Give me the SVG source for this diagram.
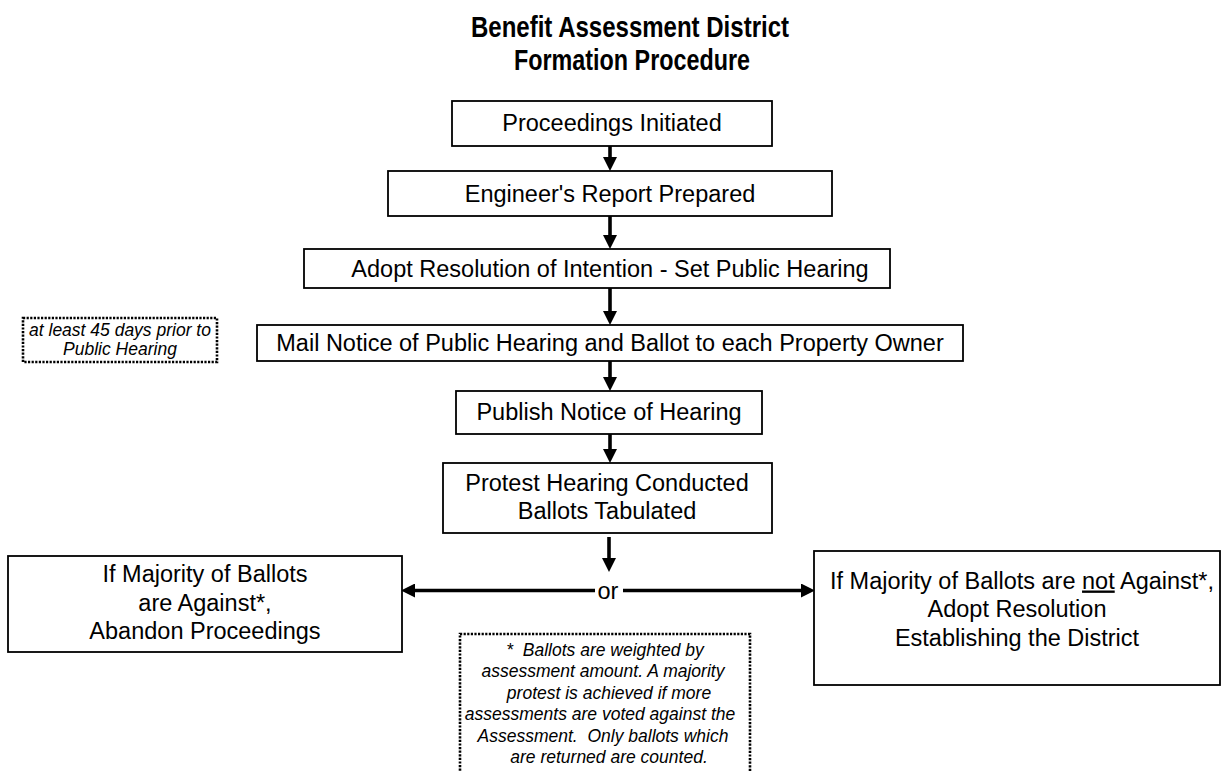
<svg xmlns="http://www.w3.org/2000/svg" width="1225" height="771" viewBox="0 0 1225 771">
<style>
.box{fill:#fff;stroke:#000;stroke-width:1.8}
.note{fill:#fff;stroke:#000;stroke-width:2.6;stroke-dasharray:2.2 1.4}
.t{font-family:"Liberation Sans",Arial,sans-serif;font-size:23.5px;fill:#000;text-anchor:middle}
.n{font-family:"Liberation Sans",Arial,sans-serif;font-size:17.5px;font-style:italic;fill:#000;text-anchor:middle;white-space:pre}
.title{font-family:"Liberation Sans Narrow","Arial Narrow","Liberation Sans",Arial,sans-serif;font-stretch:condensed;font-weight:bold;font-size:29px;fill:#000;text-anchor:middle}
.c{stroke:#000;stroke-width:3.6;fill:none}
</style>
<defs>
<marker id="ah" markerWidth="14" markerHeight="14" refX="0" refY="7" orient="auto" markerUnits="userSpaceOnUse">
<path d="M0,0 L14,7 L0,14 z" fill="#000"/>
</marker>
</defs>

<g id="title">
<text class="title" x="630" y="37" textLength="318" lengthAdjust="spacingAndGlyphs">Benefit Assessment District</text>
<text class="title" x="632" y="70" textLength="236" lengthAdjust="spacingAndGlyphs">Formation Procedure</text>
</g>

<g id="connectors">
<line class="c" x1="610" y1="146" x2="610" y2="157" marker-end="url(#ah)"/>
<line class="c" x1="610" y1="216" x2="610" y2="235" marker-end="url(#ah)"/>
<line class="c" x1="610" y1="288" x2="610" y2="311" marker-end="url(#ah)"/>
<line class="c" x1="610" y1="361" x2="610" y2="377" marker-end="url(#ah)"/>
<line class="c" x1="610" y1="434" x2="610" y2="449" marker-end="url(#ah)"/>
<line class="c" x1="609" y1="537" x2="609" y2="558" marker-end="url(#ah)"/>
<line class="c" x1="595" y1="590.5" x2="415" y2="590.5" marker-end="url(#ah)"/>
<line class="c" x1="623" y1="590.5" x2="801" y2="590.5" marker-end="url(#ah)"/>
<text class="t" x="608" y="598.5">or</text>
</g>

<g id="n1">
<rect class="box" x="452" y="101" width="320" height="45"/>
<text class="t" x="612" y="131">Proceedings Initiated</text>
</g>

<g id="n2">
<rect class="box" x="388" y="171" width="444" height="45"/>
<text class="t" x="610" y="201.5">Engineer's Report Prepared</text>
</g>

<g id="n3">
<rect class="box" x="304" y="249" width="586" height="39"/>
<text class="t" x="610" y="276.5">Adopt Resolution of Intention - Set Public Hearing</text>
</g>

<g id="note45">
<rect class="note" x="23" y="318" width="194" height="44"/>
<text class="n" x="120" y="336">at least 45 days prior to</text>
<text class="n" x="120" y="355">Public Hearing</text>
</g>

<g id="n4">
<rect class="box" x="257" y="325" width="706" height="36"/>
<text class="t" x="610" y="351">Mail Notice of Public Hearing and Ballot to each Property Owner</text>
</g>

<g id="n5">
<rect class="box" x="456" y="391" width="306" height="43"/>
<text class="t" x="609" y="419.5">Publish Notice of Hearing</text>
</g>

<g id="n6">
<rect class="box" x="443" y="463" width="329" height="70"/>
<text class="t" x="607" y="491">Protest Hearing Conducted</text>
<text class="t" x="607" y="518.5">Ballots Tabulated</text>
</g>

<g id="n7">
<rect class="box" x="8" y="556" width="394" height="96"/>
<text class="t" x="205" y="582">If Majority of Ballots</text>
<text class="t" x="205" y="610.5">are Against*,</text>
<text class="t" x="205" y="639">Abandon Proceedings</text>
</g>

<g id="n8">
<rect class="box" x="814" y="551" width="406" height="134"/>
<text class="t" x="1022" y="588.5">If Majority of Ballots are <tspan text-decoration="underline">not</tspan> Against*,</text>
<text class="t" x="1017" y="617">Adopt Resolution</text>
<text class="t" x="1017" y="645.5">Establishing the District</text>
</g>

<g id="footnote">
<rect class="note" x="460" y="634" width="290" height="160"/>
<text class="n" x="605" y="655.5">*  Ballots are weighted by</text>
<text class="n" x="603" y="677">assessment amount. A majority</text>
<text class="n" x="609" y="698.5">protest is achieved if more</text>
<text class="n" x="600" y="720">assessments are voted against the</text>
<text class="n" x="603" y="741.5">Assessment.  Only ballots which</text>
<text class="n" x="609" y="763">are returned are counted.</text>
</g>
</svg>
